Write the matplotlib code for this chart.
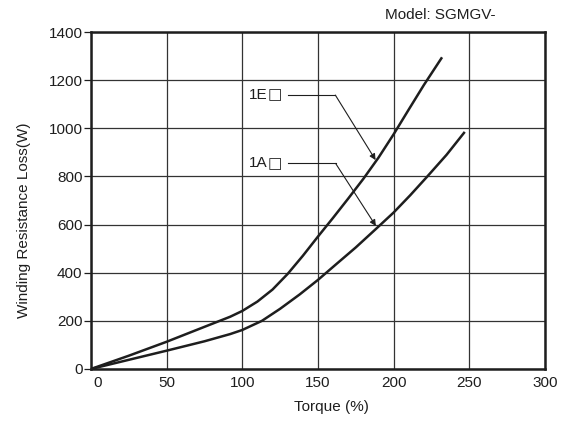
import numpy as np
import matplotlib
matplotlib.use('Agg')
import matplotlib.pyplot as plt
from matplotlib.transforms import ScaledTranslation

plt.rcParams['font.family'] = ['Liberation Sans', 'DejaVu Sans']

# Torque (%) vs winding resistance loss (W)
torque_1e = [0, 25, 50, 75, 92, 100, 110, 120, 130, 140, 150, 160, 170, 180, 190, 200, 210, 220, 232]
loss_1e = [0, 55, 113, 175, 217, 241, 280, 330, 395, 470, 550, 628, 708, 790, 878, 975, 1078, 1180, 1295]

torque_1a = [0, 25, 50, 75, 92, 100, 113, 125, 138, 150, 162, 175, 188, 200, 211, 222, 235, 247]
loss_1a = [0, 38, 76, 115, 145, 162, 200, 250, 310, 370, 435, 505, 580, 650, 722, 798, 890, 985]

x_ticks = [0, 50, 100, 150, 200, 250, 300]
y_ticks = [0, 200, 400, 600, 800, 1000, 1200, 1400]

# annotation: label, text height, elbow, arrow tip (data units)
labels = ['1E', '1A']
label_y = [1138, 854]
elbow_x = [161.5, 161.7]
tip_xy = [(188.1, 868), (188.3, 594)]

fig = plt.figure(figsize=(5.73, 4.23), dpi=100)
ax = fig.add_axes([0.1586, 0.1277, 0.9511 - 0.1586, 0.9243 - 0.1277])

ink = '#1e1e1e'
ax.plot(torque_1e, loss_1e, color=ink, lw=1.8, solid_capstyle='butt')
ax.plot(torque_1a, loss_1a, color=ink, lw=1.8, solid_capstyle='butt')

ax.set_xlim(0, 300)
ax.set_ylim(0, 1400)
ax.set_xticks(x_ticks)
ax.set_yticks(y_ticks)
ax.grid(True, color='#333333', lw=0.9)
ax.set_axisbelow(True)
for s in ax.spines.values():
    s.set_linewidth(1.8)
    s.set_color(ink)

ax.tick_params(axis='x', length=0, pad=5, labelsize=11, colors=ink)
ax.tick_params(axis='y', length=5, width=0.9, pad=1, labelsize=11, colors=ink, direction='out')

# nudge "0" on the x axis away from the spine
lbl0 = ax.get_xticklabels()[0]
lbl0.set_transform(lbl0.get_transform() + ScaledTranslation(5 / 72, 0, fig.dpi_scale_trans))

for name, ly, ex, tip in zip(labels, label_y, elbow_x, tip_xy):
    ax.text(116.6, ly, name, ha='right', va='center', fontsize=11, color=ink)
    ax.text(116.9, ly, '\u25a1', ha='left', va='center', fontsize=11, color=ink,
            family=['DejaVu Sans'])
    ax.plot([130, ex], [ly, ly], color=ink, lw=0.8)
    ax.annotate('', xy=tip, xytext=(ex, ly),
                arrowprops=dict(arrowstyle='-|>', color=ink, lw=0.8,
                                mutation_scale=9, shrinkA=0, shrinkB=0))

fig.text(0.865, 0.965, 'Model: SGMGV-', ha='right', va='center', fontsize=11, color=ink)
fig.text(0.578, 0.038, 'Torque (%)', ha='center', va='center', fontsize=11, color=ink)
fig.text(0.042, 0.48, 'Winding Resistance Loss(W)', ha='center', va='center',
         rotation=90, fontsize=11, color=ink)

fig.savefig('out.png', dpi=100)
